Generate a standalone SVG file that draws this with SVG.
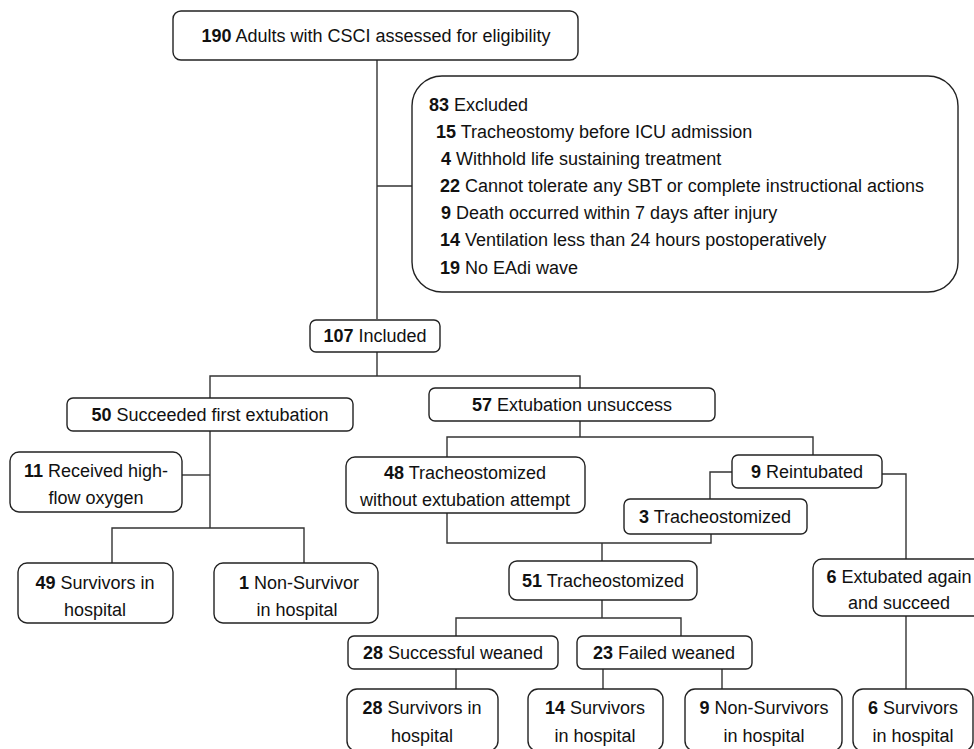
<svg xmlns="http://www.w3.org/2000/svg" width="974" height="749" viewBox="0 0 974 749">
<style>
.box{fill:#fff;stroke:#222;stroke-width:1.4}
.ln{fill:none;stroke:#333;stroke-width:1.4}
text{font-family:"Liberation Sans",Arial,sans-serif;font-size:18px;fill:#111}
.c{text-anchor:middle}
.b{font-weight:bold}
</style>
<rect width="974" height="749" fill="#fff"/>
<g id="connectors" class="ln">
<path d="M377,60V319"/>
<path d="M377,186H412"/>
<path d="M377,352V376"/>
<path d="M210,398V376H580V388"/>
<path d="M210,431V528"/>
<path d="M182,475H210"/>
<path d="M112,563V528H304V563"/>
<path d="M580,421V437"/>
<path d="M447,457V437H813V455"/>
<path d="M732,472H710V499"/>
<path d="M447,513V543H711V534"/>
<path d="M602,543V561"/>
<path d="M882,474H906V559"/>
<path d="M602,600V618"/>
<path d="M456,636V618H681V636"/>
<path d="M456,669V689"/>
<path d="M603,669V689"/>
<path d="M722,669V689"/>
<path d="M906,616V689"/>
</g>
<g id="n190"><rect class="box" x="173" y="11" width="405" height="49" rx="8"/><text class="c" x="376" y="42"><tspan class="b">190</tspan> Adults with CSCI assessed for eligibility</text></g>
<g id="excluded"><rect class="box" x="412" y="76" width="546" height="216" rx="30"/>
<text x="429" y="111"><tspan class="b">83</tspan> Excluded</text>
<text x="436" y="138"><tspan class="b">15</tspan> Tracheostomy before ICU admission</text>
<text x="441" y="165"><tspan class="b">4</tspan> Withhold life sustaining treatment</text>
<text x="440" y="192"><tspan class="b">22</tspan> Cannot tolerate any SBT or complete instructional actions</text>
<text x="441" y="219"><tspan class="b">9</tspan> Death occurred within 7 days after injury</text>
<text x="440" y="246"><tspan class="b">14</tspan> Ventilation less than 24 hours postoperatively</text>
<text x="440" y="274"><tspan class="b">19</tspan> No EAdi wave</text>
</g>
<g id="included"><rect class="box" x="310" y="320" width="130" height="32" rx="6"/><text class="c" x="375" y="342"><tspan class="b">107</tspan> Included</text></g>
<g id="succ"><rect class="box" x="67" y="398" width="286" height="33" rx="6"/><text class="c" x="210" y="421"><tspan class="b">50</tspan> Succeeded first extubation</text></g>
<g id="unsucc"><rect class="box" x="429" y="388" width="286" height="33" rx="6"/><text class="c" x="572" y="411"><tspan class="b">57</tspan> Extubation unsuccess</text></g>
<g id="hfo"><rect class="box" x="10" y="452" width="172" height="60" rx="9"/><text class="c" x="96" y="477"><tspan class="b">11</tspan> Received high-</text><text class="c" x="96" y="504">flow oxygen</text></g>
<g id="s49"><rect class="box" x="18" y="563" width="155" height="60" rx="9"/><text class="c" x="95" y="589"><tspan class="b">49</tspan> Survivors in</text><text class="c" x="95" y="616">hospital</text></g>
<g id="ns1"><rect class="box" x="214" y="563" width="164" height="60" rx="9"/><text class="c" x="299" y="589"><tspan class="b">1</tspan> Non-Survivor</text><text class="c" x="297" y="616">in hospital</text></g>
<g id="t48"><rect class="box" x="346" y="457" width="239" height="56" rx="9"/><text class="c" x="465" y="479"><tspan class="b">48</tspan> Tracheostomized</text><text class="c" x="465" y="506">without extubation attempt</text></g>
<g id="r9"><rect class="box" x="732" y="455" width="150" height="33" rx="6"/><text class="c" x="807" y="478"><tspan class="b">9</tspan> Reintubated</text></g>
<g id="t3"><rect class="box" x="624" y="499" width="183" height="35" rx="6"/><text class="c" x="715" y="523"><tspan class="b">3</tspan> Tracheostomized</text></g>
<g id="t51"><rect class="box" x="509" y="561" width="188" height="39" rx="8"/><text class="c" x="603" y="587"><tspan class="b">51</tspan> Tracheostomized</text></g>
<g id="e6"><rect class="box" x="813" y="559" width="172" height="57" rx="9"/><text class="c" x="899" y="583"><tspan class="b">6</tspan> Extubated again</text><text class="c" x="899" y="609">and succeed</text></g>
<g id="sw28"><rect class="box" x="348" y="636" width="210" height="33" rx="6"/><text class="c" x="453" y="659"><tspan class="b">28</tspan> Successful weaned</text></g>
<g id="fw23"><rect class="box" x="577" y="636" width="175" height="33" rx="6"/><text class="c" x="664" y="659"><tspan class="b">23</tspan> Failed weaned</text></g>
<g id="s28"><rect class="box" x="347" y="689" width="151" height="62" rx="10"/><text class="c" x="422" y="714"><tspan class="b">28</tspan> Survivors in</text><text class="c" x="422" y="742">hospital</text></g>
<g id="s14"><rect class="box" x="528" y="689" width="135" height="62" rx="10"/><text class="c" x="595" y="714"><tspan class="b">14</tspan> Survivors</text><text class="c" x="595" y="742">in hospital</text></g>
<g id="ns9"><rect class="box" x="685" y="689" width="157" height="62" rx="10"/><text class="c" x="764" y="714"><tspan class="b">9</tspan> Non-Survivors</text><text class="c" x="764" y="742">in hospital</text></g>
<g id="s6"><rect class="box" x="853" y="689" width="120" height="62" rx="10"/><text class="c" x="913" y="714"><tspan class="b">6</tspan> Survivors</text><text class="c" x="913" y="742">in hospital</text></g>
</svg>
